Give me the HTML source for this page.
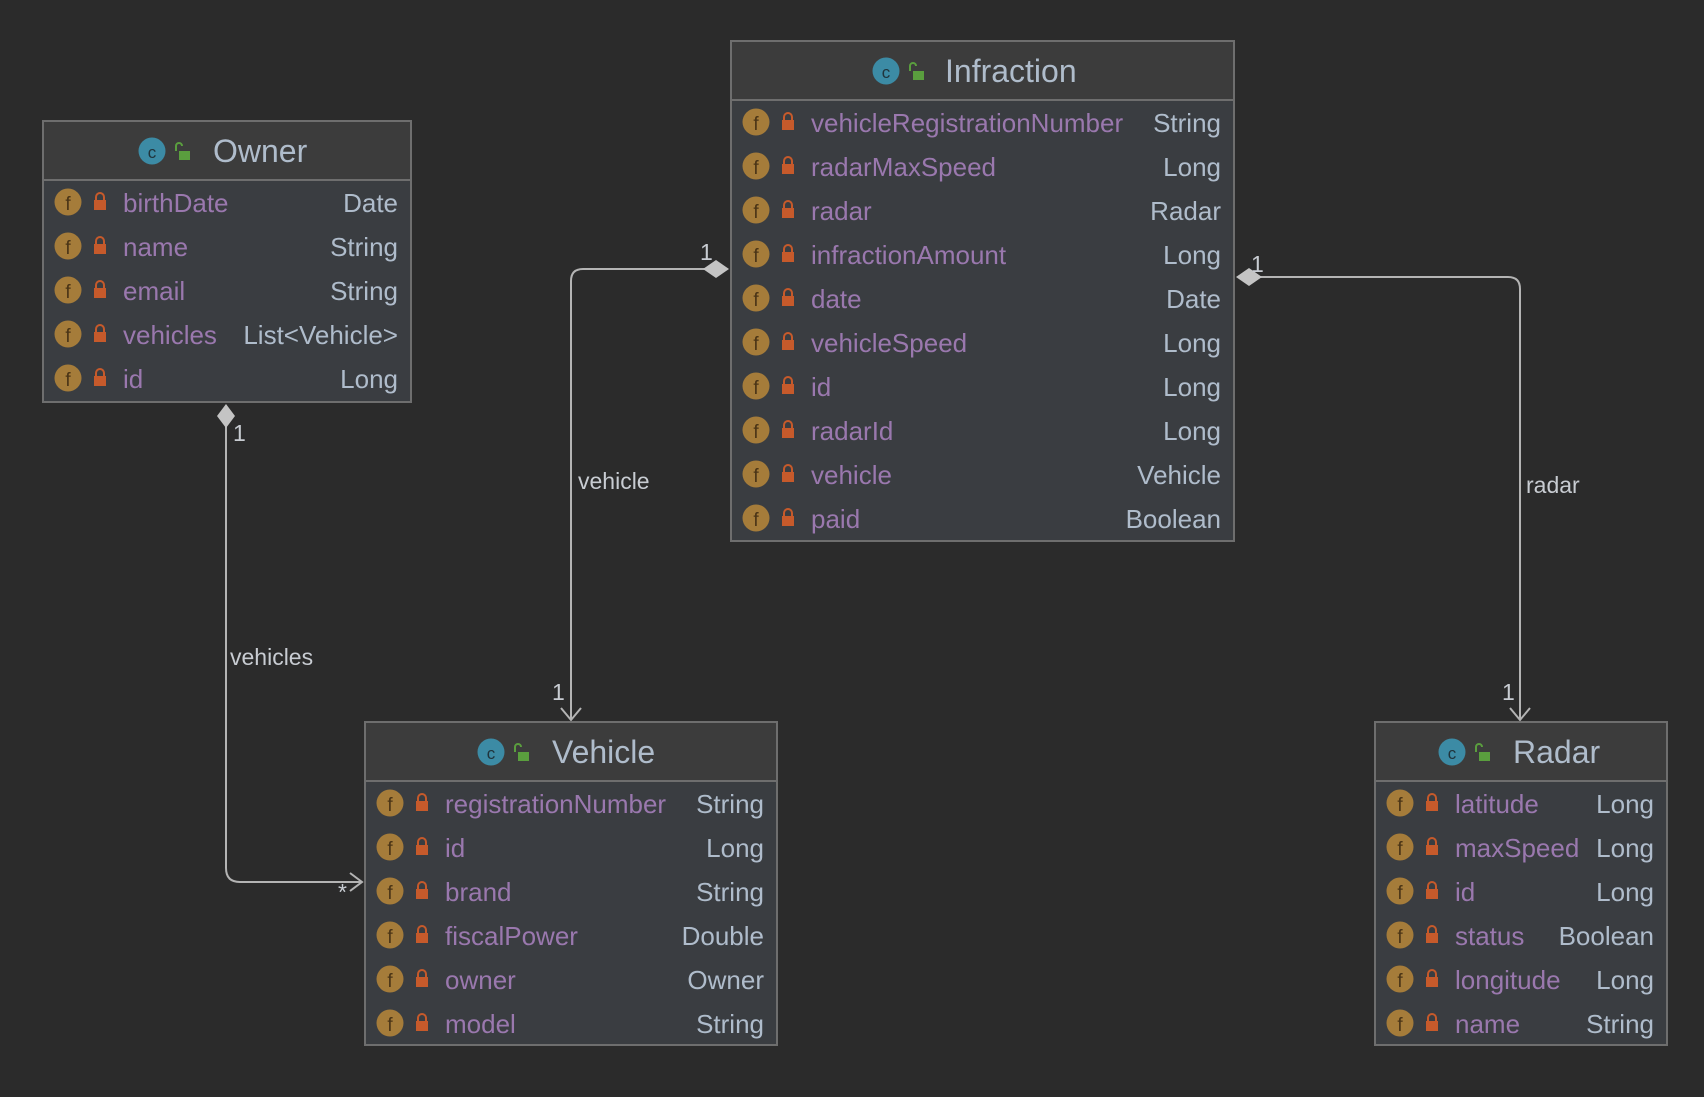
<!DOCTYPE html>
<html><head><meta charset="utf-8"><style>
html,body{margin:0;padding:0;background:#2b2b2b;}
svg{display:block;}
text{font-family:"Liberation Sans","DejaVu Sans",sans-serif;}
.n{fill:#9a78ae;font-size:26px;}
.t{fill:#afbccb;font-size:26px;text-anchor:end;}
.f{fill:#4a3416;font-size:19px;text-anchor:middle;}
.h{fill:#afbccb;font-size:32px;}
.l{fill:#c8ccd2;font-size:23px;}
.fc{fill:#a57c3a;}
.lk{fill:#c65a2b;}
</style></head><body>
<svg width="1704" height="1097" viewBox="0 0 1704 1097" xmlns="http://www.w3.org/2000/svg">
<rect width="1704" height="1097" fill="#2b2b2b"/>

<g fill="none" stroke="#b4b4b4" stroke-width="2">
  <path d="M226 420 L226 868 Q226 882 240 882 L362 882"/>
  <path d="M350 873 L362 882 L350 891"/>
  <path d="M705 269 L583 269 Q571 269 571 281 L571 720"/>
  <path d="M561 708 L571 720 L581 708"/>
  <path d="M1260 277 L1508 277 Q1520 277 1520 289 L1520 720"/>
  <path d="M1510 708 L1520 720 L1530 708"/>
</g>
<g fill="#c4c4c4">
  <path d="M226 404 L235 416 L226 428 L217 416 Z"/>
  <path d="M703 269 L716 260 L729 269 L716 278 Z"/>
  <path d="M1236 277 L1249 268 L1262 277 L1249 286 Z"/>
</g>
<text class="l" x="233" y="441">1</text>
<text class="l" x="230" y="665">vehicles</text>
<text class="l" x="338" y="900">*</text>
<text class="l" x="700" y="260">1</text>
<text class="l" x="578" y="489">vehicle</text>
<text class="l" x="552" y="700">1</text>
<text class="l" x="1251" y="272">1</text>
<text class="l" x="1526" y="493">radar</text>
<text class="l" x="1502" y="700">1</text>

<!-- Owner -->
<rect x="43" y="121" width="368" height="281" fill="#3a3d41" stroke="#6e6e6e" stroke-width="2"/>
<rect x="44" y="122" width="366" height="58" fill="#3c3c3c"/>
<line x1="44" y1="180" x2="410" y2="180" stroke="#6e6e6e" stroke-width="2"/>
<circle cx="152" cy="151" r="13.5" fill="#3c8ba5"/><text x="152" y="158" font-size="17" fill="#20343c" text-anchor="middle">c</text>
<rect x="179" y="151" width="11" height="9" fill="#5a9e3e"/><path d="M176 151 v-5 a3 3 0 0 1 6 0" fill="none" stroke="#5a9e3e" stroke-width="2"/>
<text class="h" x="213" y="162">Owner</text>

<g>
<circle class="fc" cx="68" cy="202" r="13.5"/><text class="f" x="68" y="210">f</text><rect class="lk" x="94" y="200" width="12" height="10"/><path d="M96 200 v-3 a4 4 0 0 1 8 0 v3" fill="none" stroke="#c65a2b" stroke-width="2"/><text class="n" x="123" y="212">birthDate</text><text class="t" x="398" y="212">Date</text>
<circle class="fc" cx="68" cy="246" r="13.5"/><text class="f" x="68" y="254">f</text><rect class="lk" x="94" y="244" width="12" height="10"/><path d="M96 244 v-3 a4 4 0 0 1 8 0 v3" fill="none" stroke="#c65a2b" stroke-width="2"/><text class="n" x="123" y="256">name</text><text class="t" x="398" y="256">String</text>
<circle class="fc" cx="68" cy="290" r="13.5"/><text class="f" x="68" y="298">f</text><rect class="lk" x="94" y="288" width="12" height="10"/><path d="M96 288 v-3 a4 4 0 0 1 8 0 v3" fill="none" stroke="#c65a2b" stroke-width="2"/><text class="n" x="123" y="300">email</text><text class="t" x="398" y="300">String</text>
<circle class="fc" cx="68" cy="334" r="13.5"/><text class="f" x="68" y="342">f</text><rect class="lk" x="94" y="332" width="12" height="10"/><path d="M96 332 v-3 a4 4 0 0 1 8 0 v3" fill="none" stroke="#c65a2b" stroke-width="2"/><text class="n" x="123" y="344">vehicles</text><text class="t" x="398" y="344">List&lt;Vehicle&gt;</text>
<circle class="fc" cx="68" cy="378" r="13.5"/><text class="f" x="68" y="386">f</text><rect class="lk" x="94" y="376" width="12" height="10"/><path d="M96 376 v-3 a4 4 0 0 1 8 0 v3" fill="none" stroke="#c65a2b" stroke-width="2"/><text class="n" x="123" y="388">id</text><text class="t" x="398" y="388">Long</text>
</g>

<!-- Infraction -->
<rect x="731" y="41" width="503" height="500" fill="#3a3d41" stroke="#6e6e6e" stroke-width="2"/>
<rect x="732" y="42" width="501" height="58" fill="#3c3c3c"/>
<line x1="732" y1="100" x2="1233" y2="100" stroke="#6e6e6e" stroke-width="2"/>
<circle cx="886" cy="71" r="13.5" fill="#3c8ba5"/><text x="886" y="78" font-size="17" fill="#20343c" text-anchor="middle">c</text>
<rect x="913" y="71" width="11" height="9" fill="#5a9e3e"/><path d="M910 71 v-5 a3 3 0 0 1 6 0" fill="none" stroke="#5a9e3e" stroke-width="2"/>
<text class="h" x="945" y="82">Infraction</text>
<g>
<circle class="fc" cx="756" cy="122" r="13.5"/><text class="f" x="756" y="130">f</text><rect class="lk" x="782" y="120" width="12" height="10"/><path d="M784 120 v-3 a4 4 0 0 1 8 0 v3" fill="none" stroke="#c65a2b" stroke-width="2"/><text class="n" x="811" y="132">vehicleRegistrationNumber</text><text class="t" x="1221" y="132">String</text>
<circle class="fc" cx="756" cy="166" r="13.5"/><text class="f" x="756" y="174">f</text><rect class="lk" x="782" y="164" width="12" height="10"/><path d="M784 164 v-3 a4 4 0 0 1 8 0 v3" fill="none" stroke="#c65a2b" stroke-width="2"/><text class="n" x="811" y="176">radarMaxSpeed</text><text class="t" x="1221" y="176">Long</text>
<circle class="fc" cx="756" cy="210" r="13.5"/><text class="f" x="756" y="218">f</text><rect class="lk" x="782" y="208" width="12" height="10"/><path d="M784 208 v-3 a4 4 0 0 1 8 0 v3" fill="none" stroke="#c65a2b" stroke-width="2"/><text class="n" x="811" y="220">radar</text><text class="t" x="1221" y="220">Radar</text>
<circle class="fc" cx="756" cy="254" r="13.5"/><text class="f" x="756" y="262">f</text><rect class="lk" x="782" y="252" width="12" height="10"/><path d="M784 252 v-3 a4 4 0 0 1 8 0 v3" fill="none" stroke="#c65a2b" stroke-width="2"/><text class="n" x="811" y="264">infractionAmount</text><text class="t" x="1221" y="264">Long</text>
<circle class="fc" cx="756" cy="298" r="13.5"/><text class="f" x="756" y="306">f</text><rect class="lk" x="782" y="296" width="12" height="10"/><path d="M784 296 v-3 a4 4 0 0 1 8 0 v3" fill="none" stroke="#c65a2b" stroke-width="2"/><text class="n" x="811" y="308">date</text><text class="t" x="1221" y="308">Date</text>
<circle class="fc" cx="756" cy="342" r="13.5"/><text class="f" x="756" y="350">f</text><rect class="lk" x="782" y="340" width="12" height="10"/><path d="M784 340 v-3 a4 4 0 0 1 8 0 v3" fill="none" stroke="#c65a2b" stroke-width="2"/><text class="n" x="811" y="352">vehicleSpeed</text><text class="t" x="1221" y="352">Long</text>
<circle class="fc" cx="756" cy="386" r="13.5"/><text class="f" x="756" y="394">f</text><rect class="lk" x="782" y="384" width="12" height="10"/><path d="M784 384 v-3 a4 4 0 0 1 8 0 v3" fill="none" stroke="#c65a2b" stroke-width="2"/><text class="n" x="811" y="396">id</text><text class="t" x="1221" y="396">Long</text>
<circle class="fc" cx="756" cy="430" r="13.5"/><text class="f" x="756" y="438">f</text><rect class="lk" x="782" y="428" width="12" height="10"/><path d="M784 428 v-3 a4 4 0 0 1 8 0 v3" fill="none" stroke="#c65a2b" stroke-width="2"/><text class="n" x="811" y="440">radarId</text><text class="t" x="1221" y="440">Long</text>
<circle class="fc" cx="756" cy="474" r="13.5"/><text class="f" x="756" y="482">f</text><rect class="lk" x="782" y="472" width="12" height="10"/><path d="M784 472 v-3 a4 4 0 0 1 8 0 v3" fill="none" stroke="#c65a2b" stroke-width="2"/><text class="n" x="811" y="484">vehicle</text><text class="t" x="1221" y="484">Vehicle</text>
<circle class="fc" cx="756" cy="518" r="13.5"/><text class="f" x="756" y="526">f</text><rect class="lk" x="782" y="516" width="12" height="10"/><path d="M784 516 v-3 a4 4 0 0 1 8 0 v3" fill="none" stroke="#c65a2b" stroke-width="2"/><text class="n" x="811" y="528">paid</text><text class="t" x="1221" y="528">Boolean</text>
</g>

<!-- Vehicle -->
<rect x="365" y="722" width="412" height="323" fill="#3a3d41" stroke="#6e6e6e" stroke-width="2"/>
<rect x="366" y="723" width="410" height="58" fill="#3c3c3c"/>
<line x1="366" y1="781" x2="776" y2="781" stroke="#6e6e6e" stroke-width="2"/>
<circle cx="491" cy="752" r="13.5" fill="#3c8ba5"/><text x="491" y="759" font-size="17" fill="#20343c" text-anchor="middle">c</text>
<rect x="518" y="752" width="11" height="9" fill="#5a9e3e"/><path d="M515 752 v-5 a3 3 0 0 1 6 0" fill="none" stroke="#5a9e3e" stroke-width="2"/>
<text class="h" x="552" y="763">Vehicle</text>
<g>
<circle class="fc" cx="390" cy="803" r="13.5"/><text class="f" x="390" y="811">f</text><rect class="lk" x="416" y="801" width="12" height="10"/><path d="M418 801 v-3 a4 4 0 0 1 8 0 v3" fill="none" stroke="#c65a2b" stroke-width="2"/><text class="n" x="445" y="813">registrationNumber</text><text class="t" x="764" y="813">String</text>
<circle class="fc" cx="390" cy="847" r="13.5"/><text class="f" x="390" y="855">f</text><rect class="lk" x="416" y="845" width="12" height="10"/><path d="M418 845 v-3 a4 4 0 0 1 8 0 v3" fill="none" stroke="#c65a2b" stroke-width="2"/><text class="n" x="445" y="857">id</text><text class="t" x="764" y="857">Long</text>
<circle class="fc" cx="390" cy="891" r="13.5"/><text class="f" x="390" y="899">f</text><rect class="lk" x="416" y="889" width="12" height="10"/><path d="M418 889 v-3 a4 4 0 0 1 8 0 v3" fill="none" stroke="#c65a2b" stroke-width="2"/><text class="n" x="445" y="901">brand</text><text class="t" x="764" y="901">String</text>
<circle class="fc" cx="390" cy="935" r="13.5"/><text class="f" x="390" y="943">f</text><rect class="lk" x="416" y="933" width="12" height="10"/><path d="M418 933 v-3 a4 4 0 0 1 8 0 v3" fill="none" stroke="#c65a2b" stroke-width="2"/><text class="n" x="445" y="945">fiscalPower</text><text class="t" x="764" y="945">Double</text>
<circle class="fc" cx="390" cy="979" r="13.5"/><text class="f" x="390" y="987">f</text><rect class="lk" x="416" y="977" width="12" height="10"/><path d="M418 977 v-3 a4 4 0 0 1 8 0 v3" fill="none" stroke="#c65a2b" stroke-width="2"/><text class="n" x="445" y="989">owner</text><text class="t" x="764" y="989">Owner</text>
<circle class="fc" cx="390" cy="1023" r="13.5"/><text class="f" x="390" y="1031">f</text><rect class="lk" x="416" y="1021" width="12" height="10"/><path d="M418 1021 v-3 a4 4 0 0 1 8 0 v3" fill="none" stroke="#c65a2b" stroke-width="2"/><text class="n" x="445" y="1033">model</text><text class="t" x="764" y="1033">String</text>
</g>

<!-- Radar -->
<rect x="1375" y="722" width="292" height="323" fill="#3a3d41" stroke="#6e6e6e" stroke-width="2"/>
<rect x="1376" y="723" width="290" height="58" fill="#3c3c3c"/>
<line x1="1376" y1="781" x2="1666" y2="781" stroke="#6e6e6e" stroke-width="2"/>
<circle cx="1452" cy="752" r="13.5" fill="#3c8ba5"/><text x="1452" y="759" font-size="17" fill="#20343c" text-anchor="middle">c</text>
<rect x="1479" y="752" width="11" height="9" fill="#5a9e3e"/><path d="M1476 752 v-5 a3 3 0 0 1 6 0" fill="none" stroke="#5a9e3e" stroke-width="2"/>
<text class="h" x="1513" y="763">Radar</text>
<g>
<circle class="fc" cx="1400" cy="803" r="13.5"/><text class="f" x="1400" y="811">f</text><rect class="lk" x="1426" y="801" width="12" height="10"/><path d="M1428 801 v-3 a4 4 0 0 1 8 0 v3" fill="none" stroke="#c65a2b" stroke-width="2"/><text class="n" x="1455" y="813">latitude</text><text class="t" x="1654" y="813">Long</text>
<circle class="fc" cx="1400" cy="847" r="13.5"/><text class="f" x="1400" y="855">f</text><rect class="lk" x="1426" y="845" width="12" height="10"/><path d="M1428 845 v-3 a4 4 0 0 1 8 0 v3" fill="none" stroke="#c65a2b" stroke-width="2"/><text class="n" x="1455" y="857">maxSpeed</text><text class="t" x="1654" y="857">Long</text>
<circle class="fc" cx="1400" cy="891" r="13.5"/><text class="f" x="1400" y="899">f</text><rect class="lk" x="1426" y="889" width="12" height="10"/><path d="M1428 889 v-3 a4 4 0 0 1 8 0 v3" fill="none" stroke="#c65a2b" stroke-width="2"/><text class="n" x="1455" y="901">id</text><text class="t" x="1654" y="901">Long</text>
<circle class="fc" cx="1400" cy="935" r="13.5"/><text class="f" x="1400" y="943">f</text><rect class="lk" x="1426" y="933" width="12" height="10"/><path d="M1428 933 v-3 a4 4 0 0 1 8 0 v3" fill="none" stroke="#c65a2b" stroke-width="2"/><text class="n" x="1455" y="945">status</text><text class="t" x="1654" y="945">Boolean</text>
<circle class="fc" cx="1400" cy="979" r="13.5"/><text class="f" x="1400" y="987">f</text><rect class="lk" x="1426" y="977" width="12" height="10"/><path d="M1428 977 v-3 a4 4 0 0 1 8 0 v3" fill="none" stroke="#c65a2b" stroke-width="2"/><text class="n" x="1455" y="989">longitude</text><text class="t" x="1654" y="989">Long</text>
<circle class="fc" cx="1400" cy="1023" r="13.5"/><text class="f" x="1400" y="1031">f</text><rect class="lk" x="1426" y="1021" width="12" height="10"/><path d="M1428 1021 v-3 a4 4 0 0 1 8 0 v3" fill="none" stroke="#c65a2b" stroke-width="2"/><text class="n" x="1455" y="1033">name</text><text class="t" x="1654" y="1033">String</text>
</g>
</svg>
</body></html>
